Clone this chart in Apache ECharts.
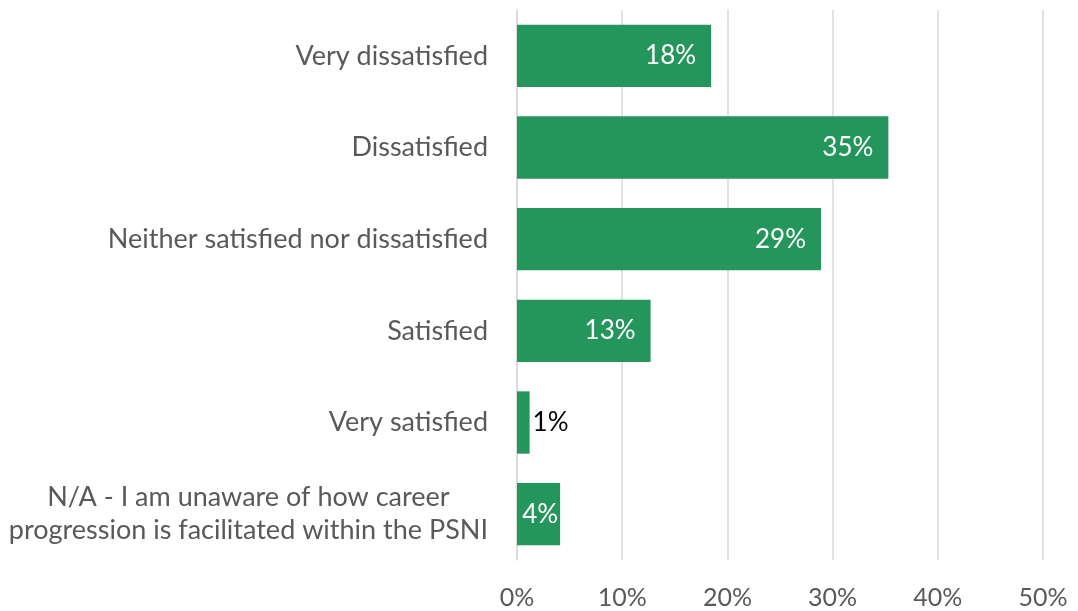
<!DOCTYPE html>
<html>
<head>
<meta charset="utf-8">
<script src="https://cdn.jsdelivr.net/npm/echarts@6/dist/echarts.min.js"></script>
<style>
  html, body { margin: 0; padding: 0; background: #ffffff; }
  #chart { width: 1078px; height: 611px; }
</style>
</head>
<body>
<div id="chart"></div>
<script>
// Satisfaction with career progression (share of respondents, %)
const categories = [
  'Very dissatisfied',
  'Dissatisfied',
  'Neither satisfied nor dissatisfied',
  'Satisfied',
  'Very satisfied',
  'N/A - I am unaware of how career\nprogression is facilitated within the PSNI'
];
const shares = [18.45, 35.3, 28.9, 12.7, 1.2, 4.1];
const tickLabels = ['0%', '10%', '20%', '30%', '40%', '50%'];

const FONT = 'Lato, "Liberation Sans", sans-serif';
const GREEN = '#25965B';
const GREY_TEXT = '#595959';

const barData = shares.map(function (v) {
  const item = { value: v };
  if (v < 3) {
    // too narrow to hold its label: put the label just outside
    item.label = { position: 'right', distance: 3, color: '#000000' };
  } else if (v < 6) {
    // short bar: keep the label tight against the end
    item.label = { distance: 2 };
  }
  return item;
});

const chart = echarts.init(document.getElementById('chart'), null, { renderer: 'canvas' });
chart.setOption({
  animation: false,
  backgroundColor: '#ffffff',
  grid: { left: 517, right: 35, top: 10, bottom: 51, containLabel: false },
  xAxis: {
    type: 'value',
    min: 0,
    max: 50,
    interval: 10,
    axisLine: { show: false },
    axisTick: { show: false },
    splitLine: { show: true, lineStyle: { color: '#D9D9D9', width: 1.5 } },
    axisLabel: {
      color: GREY_TEXT,
      fontFamily: FONT,
      fontSize: 25,
      margin: 25,
      formatter: function (v) { return tickLabels[Math.round(v / 10)]; }
    }
  },
  yAxis: {
    type: 'category',
    inverse: true,
    data: categories,
    axisLine: { show: true, lineStyle: { color: '#D9D9D9', width: 1.5 } },
    axisTick: { show: false },
    axisLabel: {
      color: GREY_TEXT,
      fontFamily: FONT,
      fontSize: 27,
      margin: 29,
      align: 'right',
      lineHeight: 33,
      formatter: function (v) {
        if (v.indexOf('\n') < 0) return v;
        return v.split('\n').map(function (s) { return '{c|' + s + '}'; }).join('\n');
      },
      rich: {
        c: { align: 'center', color: GREY_TEXT, fontFamily: FONT, fontSize: 27, lineHeight: 33 }
      }
    }
  },
  series: [{
    type: 'bar',
    data: barData,
    barCategoryGap: '32%',
    itemStyle: { color: GREEN },
    label: {
      show: true,
      position: 'insideRight',
      distance: 15,
      color: '#ffffff',
      fontFamily: FONT,
      fontSize: 26,
      formatter: function (p) { return Math.round(p.value) + '%'; }
    }
  }]
});
</script>
</body>
</html>
